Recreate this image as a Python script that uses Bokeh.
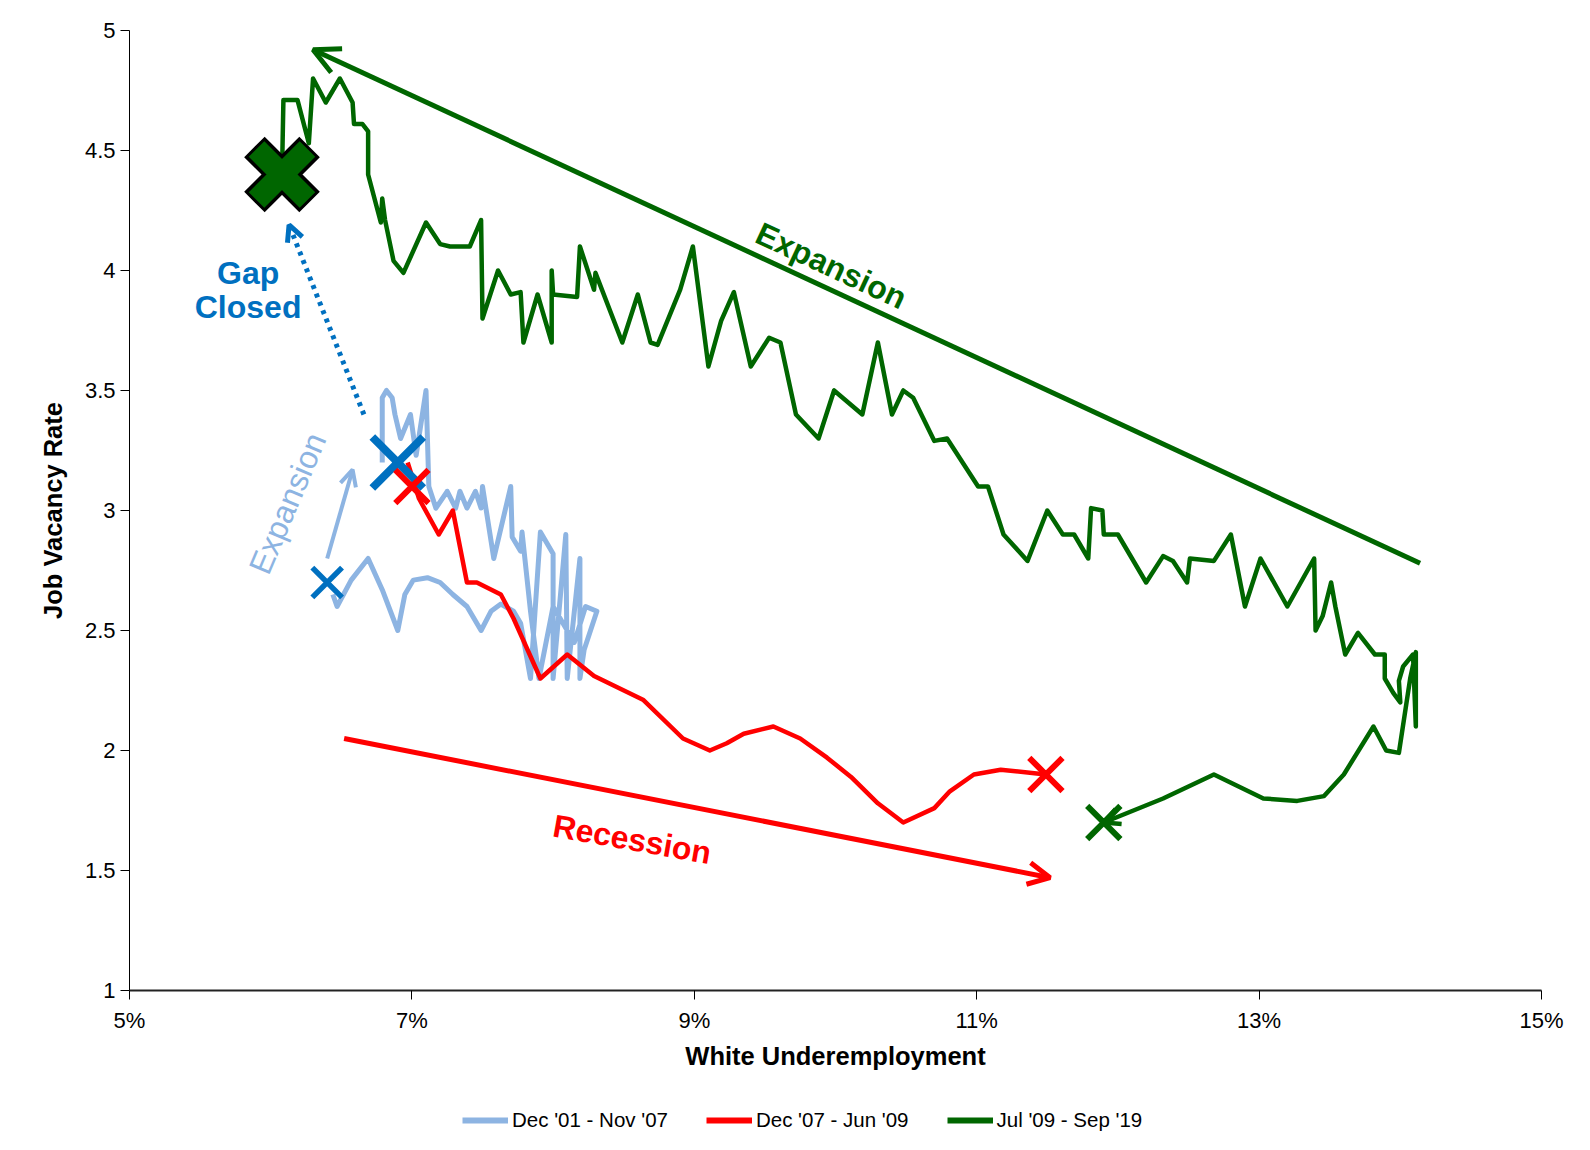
from bokeh.plotting import figure
from bokeh.layouts import column
from bokeh.models import (Range1d, FixedTicker, PrintfTickFormatter, Arrow, OpenHead,
                          Legend, LegendItem)
from bokeh.core.properties import value
from bokeh.embed import file_html
from bokeh.resources import INLINE

# ---------------- data (x = White Underemployment %, y = Job Vacancy Rate) -------------
blue_x = [6.44, 6.47, 6.57, 6.69, 6.79, 6.90, 6.95, 7.01, 7.11, 7.20,
          7.29, 7.39, 7.49, 7.56, 7.63, 7.72, 7.77, 7.84, 7.91, 8.00,
          8.00, 8.09, 8.10, 8.19, 8.19, 8.22, 8.31, 8.23, 8.15, 8.00,
          7.90, 7.84, 7.78, 7.77, 7.71, 7.70, 7.58, 7.50, 7.49, 7.45,
          7.39, 7.34, 7.31, 7.25, 7.17, 7.12, 7.10, 7.03, 6.99, 6.92,
          6.88, 6.86, 6.82, 6.79, 6.79]
blue_y = [2.65, 2.60, 2.71, 2.80, 2.67, 2.50, 2.65, 2.71, 2.72, 2.70,
          2.65, 2.60, 2.50, 2.58, 2.61, 2.58, 2.53, 2.30, 2.91, 2.82,
          2.30, 2.90, 2.30, 2.80, 2.30, 2.42, 2.58, 2.60, 2.45, 2.60,
          2.30, 2.58, 2.91, 2.83, 2.89, 3.10, 2.80, 3.10, 3.01, 3.08,
          3.01, 3.08, 3.01, 3.08, 3.01, 3.10, 3.50, 3.23, 3.40, 3.30,
          3.40, 3.47, 3.50, 3.47, 3.20]

red_x = [6.97, 7.05, 7.19, 7.29, 7.39, 7.46, 7.63, 7.72, 7.91, 8.10,
         8.29, 8.64, 8.92, 9.11, 9.23, 9.35, 9.56, 9.75, 9.94, 10.11,
         10.30, 10.48, 10.70, 10.81, 10.98, 11.17, 11.49]
red_y = [3.20, 3.05, 2.90, 3.00, 2.70, 2.70, 2.65, 2.55, 2.30, 2.40,
         2.31, 2.21, 2.05, 2.00, 2.03, 2.07, 2.10, 2.05, 1.97, 1.89,
         1.78, 1.70, 1.76, 1.83, 1.90, 1.92, 1.90]

green_x = [11.90, 12.32, 12.68, 13.03, 13.27, 13.46, 13.60, 13.81, 13.90, 13.99,
           14.07, 14.11, 14.11, 14.09, 14.02, 13.99, 14.00, 13.95, 13.89, 13.89,
           13.82, 13.70, 13.61, 13.54, 13.51, 13.45, 13.40, 13.39, 13.20, 13.01,
           12.90, 12.80, 12.68, 12.51, 12.49, 12.39, 12.32, 12.20, 12.00, 11.90,
           11.89, 11.81, 11.79, 11.69, 11.61, 11.50, 11.36, 11.19, 11.08, 11.01,
           10.79, 10.70, 10.55, 10.48, 10.40, 10.30, 10.19, 9.99, 9.88, 9.72,
           9.61, 9.53, 9.40, 9.28, 9.19, 9.10, 8.99, 8.90, 8.74, 8.69,
           8.60, 8.49, 8.30, 8.29, 8.19, 8.17, 8.00, 7.99, 7.99, 7.89,
           7.79, 7.77, 7.70, 7.61, 7.50, 7.49, 7.41, 7.27, 7.20, 7.10,
           6.94, 6.87, 6.81, 6.79, 6.78, 6.69, 6.69, 6.65, 6.59, 6.58,
           6.49, 6.39, 6.30, 6.27, 6.19, 6.09, 6.08]
green_y = [1.70, 1.80, 1.90, 1.80, 1.79, 1.81, 1.90, 2.10, 2.00, 1.99,
           2.30, 2.41, 2.10, 2.40, 2.35, 2.29, 2.20, 2.24, 2.30, 2.40,
           2.40, 2.49, 2.40, 2.60, 2.70, 2.56, 2.50, 2.80, 2.60, 2.80,
           2.60, 2.90, 2.79, 2.80, 2.70, 2.79, 2.81, 2.70, 2.90, 2.90,
           3.00, 3.01, 2.80, 2.90, 2.90, 3.00, 2.79, 2.90, 3.10, 3.10,
           3.30, 3.29, 3.47, 3.50, 3.40, 3.70, 3.40, 3.50, 3.30, 3.40,
           3.70, 3.72, 3.60, 3.91, 3.79, 3.60, 4.10, 3.92, 3.69, 3.70,
           3.90, 3.70, 3.99, 3.92, 4.10, 3.89, 3.90, 4.00, 3.70, 3.90,
           3.70, 3.91, 3.90, 4.00, 3.80, 4.21, 4.10, 4.10, 4.11, 4.20,
           3.99, 4.04, 4.21, 4.30, 4.20, 4.40, 4.58, 4.61, 4.61, 4.70,
           4.80, 4.70, 4.80, 4.53, 4.71, 4.71, 4.40]

series_labels = ["Dec '01 - Nov '07", "Dec '07 - Jun '09", "Jul '09 - Sep '19"]

x_ticks = [5, 7, 9, 11, 13, 15]
y_ticks = [1, 1.5, 2, 2.5, 3, 3.5, 4, 4.5, 5]

# annotation anchors (data coordinates)
blue_start_mark = (6.40, 2.70)
blue_end_mark = (6.90, 3.20)
red_marks_x = [7.00, 11.49]
red_marks_y = [3.10, 1.90]
green_start_mark = (11.90, 1.70)
green_end_mark = (6.08, 4.40)

LIGHT_BLUE = "#8DB4E2"
BLUE = "#0070C0"
RED = "#FF0000"
GREEN = "#006600"
FONT = "Liberation Sans"

p = figure(width=1574, height=1092, output_backend="svg", toolbar_location=None,
           x_range=Range1d(5, 15), y_range=Range1d(1, 5),
           min_border_left=129, min_border_right=33, min_border_top=30,
           min_border_bottom=102)
p.outline_line_color = None
p.xgrid.visible = False
p.ygrid.visible = False
p.background_fill_color = "white"
p.border_fill_color = "white"

# axes
p.xaxis.ticker = FixedTicker(ticks=x_ticks)
p.xaxis.formatter = PrintfTickFormatter(format="%d%%")
p.yaxis.ticker = FixedTicker(ticks=y_ticks)
p.yaxis.major_label_overrides = {1: "1", 2: "2", 3: "3", 4: "4", 5: "5"}
for ax in (p.xaxis, p.yaxis):
    ax.major_tick_in = 0
    ax.major_tick_out = 9
    ax.minor_tick_line_color = None
    ax.major_tick_line_color = "black"
    ax.major_label_text_font = FONT
    ax.major_label_text_font_size = "22px"
    ax.major_label_text_color = "black"
    ax.axis_label_text_font = FONT
    ax.axis_label_text_font_style = "bold"
    ax.axis_label_text_font_size = "25.5px"
    ax.axis_label_text_color = "black"
p.xaxis.axis_line_width = 2
p.xaxis.axis_line_color = "#222222"
p.yaxis.axis_line_color = "black"
p.xaxis.major_label_standoff = 8
p.yaxis.major_label_standoff = 5
p.xaxis.axis_label = "White Underemployment"
p.yaxis.axis_label = "Job Vacancy Rate"
p.xaxis.axis_label_standoff = 6
p.yaxis.axis_label_standoff = 15

# series
r_blue = p.line(blue_x, blue_y, line_color=LIGHT_BLUE, line_width=5, line_join="round")
r_red = p.line(red_x, red_y, line_color=RED, line_width=4.5, line_join="round")
r_green = p.line(green_x, green_y, line_color=GREEN, line_width=4.5, line_join="round")

# arrows
p.add_layout(Arrow(end=OpenHead(size=26, line_width=5, line_color=GREEN),
                   x_start=14.14, y_start=2.78, x_end=6.30, y_end=4.92,
                   line_width=5, line_color=GREEN))
p.add_layout(Arrow(end=OpenHead(size=22, line_width=5, line_color=RED),
                   x_start=6.52, y_start=2.05, x_end=11.52, y_end=1.47,
                   line_width=5, line_color=RED))
p.add_layout(Arrow(end=OpenHead(size=16, line_width=4, line_color=LIGHT_BLUE),
                   x_start=6.40, y_start=2.80, x_end=6.58, y_end=3.17,
                   line_width=4, line_color=LIGHT_BLUE))
p.add_layout(Arrow(end=OpenHead(size=16, line_width=5, line_color=BLUE),
                   x_start=6.66, y_start=3.40, x_end=6.13, y_end=4.19,
                   line_width=5, line_color=BLUE, line_dash="4 5"))
p.add_layout(Arrow(end=OpenHead(size=16, line_width=4.5, line_color=GREEN),
                   x_start=green_x[1], y_start=green_y[1],
                   x_end=green_x[0], y_end=green_y[0], line_alpha=0))

# markers
p.scatter([blue_start_mark[0]], [blue_start_mark[1]], marker="x", size=42,
          line_width=5.5, line_color=BLUE)
p.scatter([blue_end_mark[0]], [blue_end_mark[1]], marker="x", size=72,
          line_width=8, line_color=BLUE)
p.scatter(red_marks_x, red_marks_y, marker="x", size=47, line_width=6, line_color=RED)
p.scatter([green_start_mark[0]], [green_start_mark[1]], marker="x", size=47,
          line_width=6, line_color=GREEN)
p.scatter([green_end_mark[0]], [green_end_mark[1]], marker="x", size=78,
          line_width=29, line_color="black")
p.scatter([green_end_mark[0]], [green_end_mark[1]], marker="x", size=72,
          line_width=22, line_color=GREEN)

# text annotations
p.text(x=[9.97], y=[4.02], text=["Expansion"], angle=-25, angle_units="deg",
       text_font=value(FONT), text_font_style="bold", text_font_size="32px",
       text_color=GREEN, text_align="center", text_baseline="middle")
p.text(x=[8.56], y=[1.63], text=["Recession"], angle=-10, angle_units="deg",
       text_font=value(FONT), text_font_style="bold", text_font_size="32px",
       text_color=RED, text_align="center", text_baseline="middle")
p.text(x=[6.12], y=[3.03], text=["Expansion"], angle=67, angle_units="deg",
       text_font=value(FONT), text_font_size="32px",
       text_color=LIGHT_BLUE, text_align="center", text_baseline="middle")
p.text(x=[5.84, 5.84], y=[3.99, 3.85], text=["Gap", "Closed"],
       text_font=value(FONT), text_font_style="bold", text_font_size="32px",
       text_color=BLUE, text_align="center", text_baseline="middle")

# legend strip below the chart: same series, drawn outside its visible range,
# only their legend samples show
leg = figure(width=1574, height=50, output_backend="svg", toolbar_location=None,
             x_range=Range1d(0, 1), y_range=Range1d(0, 1),
             x_axis_type=None, y_axis_type=None,
             min_border_left=0, min_border_right=0, min_border_top=0,
             min_border_bottom=0)
leg.outline_line_color = None
leg.xgrid.visible = False
leg.ygrid.visible = False
lr_blue = leg.line(blue_x, blue_y, line_color=LIGHT_BLUE, line_width=6)
lr_red = leg.line(red_x, red_y, line_color=RED, line_width=6)
lr_green = leg.line(green_x, green_y, line_color=GREEN, line_width=6)
legend = Legend(items=[LegendItem(label=series_labels[0], renderers=[lr_blue]),
                       LegendItem(label=series_labels[1], renderers=[lr_red]),
                       LegendItem(label=series_labels[2], renderers=[lr_green])],
                location=(333, 10), orientation="horizontal",
                background_fill_alpha=0, border_line_alpha=0, padding=0, margin=0,
                spacing=38, label_standoff=4, glyph_width=46, glyph_height=20,
                label_height=20, label_text_font=FONT, label_text_font_size="20.5px",
                label_text_color="black")
leg.add_layout(legend)

layout = column(p, leg, spacing=0)
open("out.html", "w").write(file_html(layout, INLINE))
